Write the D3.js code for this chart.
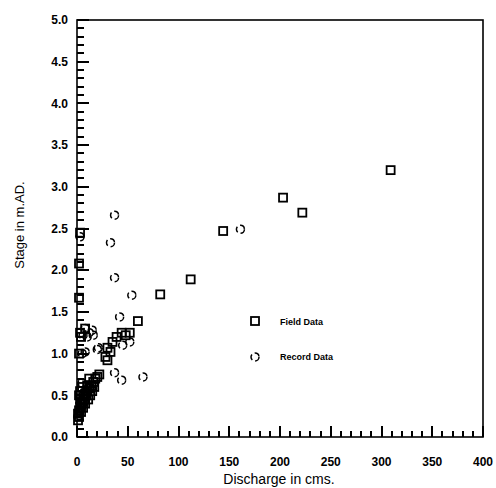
<!DOCTYPE html>
<html>
<head>
<meta charset="utf-8">
<script src="https://cdn.jsdelivr.net/npm/d3@7"></script>
<style>
  body { margin: 0; background: #fff; color: #000; }
  svg { font-family: "Liberation Sans", Arial, sans-serif; }
</style>
</head>
<body>
<script>
// Field Data (squares): discharge (cms) and stage (m.AD.)
var fieldQ     = [309, 203, 222, 144, 112, 82, 60, 52, 48, 44, 39, 35, 33, 30, 30, 28,
                  22, 20, 18, 16, 14, 12, 10, 8, 6, 4, 3, 2, 1, 2, 3, 5, 7, 9, 11, 13, 15, 17,
                  1, 2, 4, 6, 8, 3, 10, 12, 3, 2, 2, 3, 4, 8, 2, 5];
var fieldStage = [3.20, 2.87, 2.69, 2.47, 1.89, 1.71, 1.39, 1.25, 1.22, 1.25, 1.20, 1.14, 1.02, 1.07, 0.92, 0.96,
                  0.75, 0.72, 0.70, 0.66, 0.62, 0.58, 0.55, 0.52, 0.48, 0.40, 0.36, 0.32, 0.28, 0.50, 0.55, 0.60, 0.45, 0.50, 0.45, 0.50, 0.55, 0.60,
                  0.20, 0.24, 0.30, 0.35, 0.40, 0.45, 0.62, 0.70, 2.45, 2.08, 1.67, 1.25, 1.20, 1.30, 1.00, 0.42];

// Record Data (circles)
var recordQ     = [161, 37, 33, 37, 54, 52, 42, 21, 65, 44, 37, 45, 3,
                   15, 12, 10, 8, 6, 16, 20, 8, 5, 2, 4, 6, 3, 8, 10, 5, 1];
var recordStage = [2.49, 2.66, 2.33, 1.91, 1.70, 1.14, 1.44, 1.07, 0.72, 0.68, 0.77, 1.10, 2.40,
                   1.28, 1.25, 1.20, 1.30, 1.22, 1.22, 1.05, 1.02, 1.00, 0.30, 0.35, 0.42, 0.50, 0.55, 0.60, 0.65, 0.25];

var xTicks = [0, 50, 100, 150, 200, 250, 300, 350, 400];
var yTicks = [0, 0.5, 1.0, 1.5, 2.0, 2.5, 3.0, 3.5, 4.0, 4.5, 5.0];

var width = 496, height = 488;
var mLeft = 77, mRight = 483, mTop = 20, mBottom = 437;

var svg = d3.select("body").append("svg").attr("width", width).attr("height", height);

var x = d3.scaleLinear().domain([0, 400]).range([mLeft, mRight]);
var y = d3.scaleLinear().domain([0, 5]).range([mBottom, mTop]);

// frame
svg.append("rect")
      .attr("x", mLeft).attr("y", mTop)
      .attr("width", mRight - mLeft).attr("height", mBottom - mTop)
      .attr("fill", "none").attr("stroke", "#000").attr("stroke-width", 1.6);

// inward ticks, every 10 cms / 0.1 m, longer on labelled values; snapped to whole pixels
var xMinor = d3.range(0, 401, 10);
var yMinor = d3.range(0, 51, 1).map(function(d){ return d / 10; });

var ticks = svg.append("g")
      .attr("stroke", "#000").attr("stroke-width", 2)
      .attr("shape-rendering", "crispEdges");

ticks.selectAll("line.xt")
      .data(xMinor)
      .enter().append("line")
            .attr("class", "xt")
            .attr("x1", function(d){ return Math.round(x(d)); })
            .attr("x2", function(d){ return Math.round(x(d)); })
            .attr("y1", mBottom)
            .attr("y2", function(d){ return mBottom - (d % 50 === 0 ? 11 : 6); });

ticks.selectAll("line.yt")
      .data(yMinor)
      .enter().append("line")
            .attr("class", "yt")
            .attr("x1", mLeft)
            .attr("x2", function(d){ return mLeft + (Math.round(d * 10) % 5 === 0 ? 12 : 7); })
            .attr("y1", function(d){ return Math.round(y(d)); })
            .attr("y2", function(d){ return Math.round(y(d)); });

// tick labels
svg.selectAll("text.xlabel")
      .data(xTicks)
      .enter().append("text")
            .attr("class", "xlabel")
            .text(function(d){ return d; })
            .attr("x", function(d){ return x(d); })
            .attr("y", 466)
            .attr("text-anchor", "middle")
            .attr("font-size", 12).attr("font-weight", "bold");

svg.selectAll("text.ylabel")
      .data(yTicks)
      .enter().append("text")
            .attr("class", "ylabel")
            .text(function(d){ return d.toFixed(1); })
            .attr("x", mLeft - 9)
            .attr("y", function(d){ return y(d); })
            .attr("dy", "0.35em")
            .attr("text-anchor", "end")
            .attr("font-size", 12).attr("font-weight", "bold");

// axis titles
svg.append("text").text("Discharge in cms.")
      .attr("x", 279).attr("y", 484)
      .attr("text-anchor", "middle")
      .attr("font-size", 14);
svg.append("text").text("Stage in m.AD.")
      .attr("transform", "translate(24,225) rotate(-90)")
      .attr("text-anchor", "middle")
      .attr("font-size", 13);

// points
var sq = 8;
svg.selectAll("rect.field")
      .data(fieldQ)
      .enter().append("rect")
            .attr("class", "field")
            .attr("x", function(d){ return x(d) - sq / 2; })
            .attr("y", function(d, i){ return y(fieldStage[i]) - sq / 2; })
            .attr("width", sq).attr("height", sq)
            .attr("fill", "none").attr("stroke", "#000").attr("stroke-width", 1.8);

svg.selectAll("circle.record")
      .data(recordQ)
      .enter().append("circle")
            .attr("class", "record")
            .attr("cx", function(d){ return x(d); })
            .attr("cy", function(d, i){ return y(recordStage[i]); })
            .attr("r", 4)
            .attr("fill", "none").attr("stroke", "#000").attr("stroke-width", 1.5)
            .attr("stroke-dasharray", "6,3");

// legend
var legend = svg.append("g").attr("font-size", 9).attr("font-weight", "bold");
legend.append("rect")
      .attr("x", 251).attr("y", 317).attr("width", sq).attr("height", sq)
      .attr("fill", "none").attr("stroke", "#000").attr("stroke-width", 1.8);
legend.append("text").text("Field Data").attr("x", 280).attr("y", 325);
legend.append("circle")
      .attr("cx", 255).attr("cy", 357).attr("r", 4)
      .attr("fill", "none").attr("stroke", "#000").attr("stroke-width", 1.5)
      .attr("stroke-dasharray", "6,3");
legend.append("text").text("Record Data").attr("x", 280).attr("y", 360);
</script>
</body>
</html>
